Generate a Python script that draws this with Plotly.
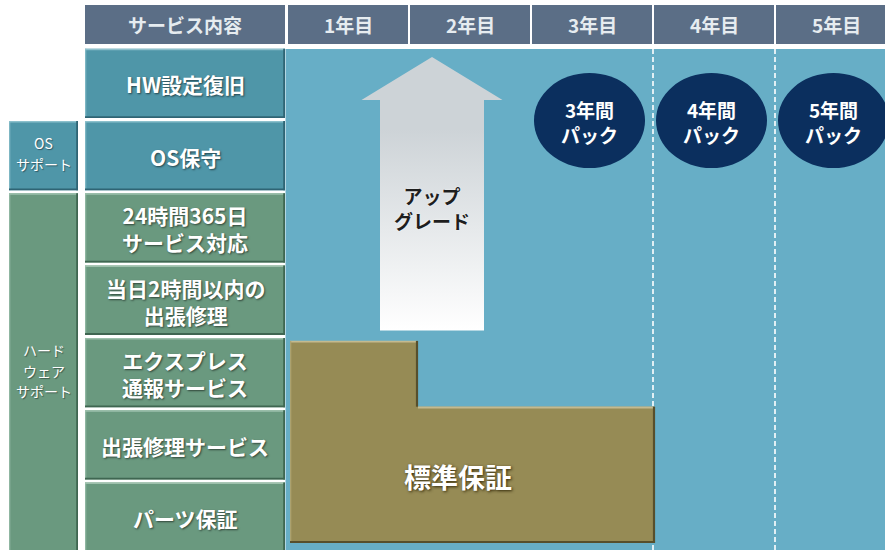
import plotly.graph_objects as go

# ---------------- data ----------------
years = ["1年目", "2年目", "3年目", "4年目", "5年目"]
header_label = "サービス内容"
services = ["HW設定復旧", "OS保守", "24時間365日<br>サービス対応", "当日2時間以内の<br>出張修理",
            "エクスプレス<br>通報サービス", "出張修理サービス", "パーツ保証"]
service_kind = ["os", "os", "hw", "hw", "hw", "hw", "hw"]
group_labels = ["OS<br>サポート", "ハード<br>ウェア<br>サポート"]
group_kind = ["os", "hw"]
group_first_row = [1, 2]
group_last_row = [1, 6]
standard_years = [0, 0, 0, 0, 1, 3, 3]
standard_label = "標準保証"
pack_years = [3, 4, 5]
pack_labels = ["3年間<br>パック", "4年間<br>パック", "5年間<br>パック"]
upgrade_label = "アップ<br>グレード"

# ---------------- style / layout ----------------
W, H = 885, 550
X0_PX, COL_PX = 287.0, 122.0       # pixel of year 0 boundary, width of one year column
Y0_PX, ROW_PX = 47.2, 72.3         # pixel of row 0 boundary, height of one row
FONT = "Noto Sans CJK JP"

C_HEADER = "#5B6E86"
C_OS = "#4F96A8"
C_HW = "#6A997F"
C_BLUE = "#67AEC6"
C_OLIVE = "#968B55"
C_NAVY = "#0B2F5E"
LIGHT = {"os": "#8CC0CC", "hw": "#9DC0AC"}
DARK = {"os": "#2F6474", "hw": "#3F6651"}
CELL = {"os": C_OS, "hw": C_HW}


def px2x(p):
    return (p - X0_PX) / COL_PX


def px2y(p):
    return (p - Y0_PX) / ROW_PX


dx = 1.0 / COL_PX   # one pixel in x units
dy = 1.0 / ROW_PX   # one pixel in y units

shapes = []
annotations = []


def rect(x0, x1, y0, y1, color):
    shapes.append(dict(type="rect", xref="x", yref="y", x0=x0, x1=x1, y0=y0, y1=y1,
                       fillcolor=color, line=dict(width=0), layer="below"))


def seg(x0, y0, x1, y1, color, width=1.5, dash=None):
    ln = dict(color=color, width=width)
    if dash:
        ln["dash"] = dash
    shapes.append(dict(type="line", xref="x", yref="y", x0=x0, x1=x1, y0=y0, y1=y1,
                       line=ln, layer="below"))


def cell(x0, x1, y0, y1, kind):
    rect(x0, x1, y0, y1, CELL[kind])
    seg(x0, y0 + 0.75 * dy, x1, y0 + 0.75 * dy, LIGHT[kind], 1.5)
    seg(x0 + 0.75 * dx, y0, x0 + 0.75 * dx, y1, LIGHT[kind], 1.0)
    seg(x1 - 0.9 * dx, y0, x1 - 0.9 * dx, y1, DARK[kind], 1.8)
    seg(x0, y1 - 0.9 * dy, x1, y1 - 0.9 * dy, DARK[kind], 1.8)


def text_lines(xc, yc, label, size, spacing_px, color="#FFFFFF", weight=700, shadow=None):
    lines = label.split("<br>")
    n = len(lines)
    for k, t in enumerate(lines):
        y = yc + (k - (n - 1) / 2) * spacing_px * dy
        f = dict(family=FONT, size=size, color=color, weight=weight)
        if shadow:
            f["shadow"] = shadow
        annotations.append(dict(x=xc, y=y, xref="x", yref="y", text=t, showarrow=False,
                                xanchor="center", yanchor="middle", font=f))


def text_block(xc, yc, label, size, color="#FFFFFF", weight=700, shadow=None):
    f = dict(family=FONT, size=size, color=color, weight=weight)
    if shadow:
        f["shadow"] = shadow
    annotations.append(dict(x=xc, y=yc, xref="x", yref="y", text=label, showarrow=False,
                            xanchor="center", yanchor="middle", align="center", font=f))


SHADOW = "1px 1px 2px rgba(0,0,0,0.55)"

n_rows = len(services)
n_years = len(years)

# columns
ITEM_X0, ITEM_X1 = px2x(85), px2x(285)
GRP_X0, GRP_X1 = px2x(9), px2x(78)
GAP = 1.5 * dy

# header
HY0, HY1 = px2y(5), px2y(44)
rect(ITEM_X0, ITEM_X1, HY0, HY1, C_HEADER)
text_block((ITEM_X0 + ITEM_X1) / 2, (HY0 + HY1) / 2, header_label, 19,
           color="#E6ECF0", weight=700)
for k, yl in enumerate(years):
    rect(k + dx, k + 1 - dx, HY0, HY1, C_HEADER)
    text_block(k + 0.5, (HY0 + HY1) / 2, yl, 19, color="#E6ECF0", weight=700)

# blue matrix background
rect(-1.5 * dx, n_years + 1, px2y(49), n_rows + 1, C_BLUE)

# dashed separators between pack columns
for p in pack_years[:-1]:
    seg(p, px2y(49), p, n_rows + 1, "#FFFFFF", 1.6, dash="5px,3px")

# service rows
for i, (lab, kind) in enumerate(zip(services, service_kind)):
    cell(ITEM_X0, ITEM_X1, i + GAP, i + 1 - GAP, kind)
    text_block((ITEM_X0 + ITEM_X1) / 2, i + 0.5 + 1 * dy, lab, 21, shadow=SHADOW)

# group column
for lab, kind, r0, r1 in zip(group_labels, group_kind, group_first_row, group_last_row):
    cell(GRP_X0, GRP_X1, r0 + GAP, r1 + 1 - GAP, kind)
    text_lines((GRP_X0 + GRP_X1) / 2, (r0 + r1 + 1) / 2 - 2 * dy, lab, 14, 20.5,
               weight=400, shadow="1px 1px 1px rgba(0,0,0,0.4)")

# standard warranty staircase
rows_std = [i for i, v in enumerate(standard_years) if v > 0]
L = 3 * dx
top = rows_std[0] + 4.5 * dy
bottom = px2y(543)
STEP_OFF = 9 * dx     # inner step sits a little right of its year boundary
EDGE_OFF = 2 * dx     # outer right edge
pts = [(L, top), (standard_years[rows_std[0]] + STEP_OFF, top)]
prev = standard_years[rows_std[0]]
prev_off = STEP_OFF
for i in rows_std[1:]:
    v = standard_years[i]
    if v != prev:
        pts.append((prev + prev_off, i - 2 * dy))
        pts.append((v + EDGE_OFF, i - 2 * dy))
        prev, prev_off = v, EDGE_OFF
pts.append((prev + prev_off, bottom))
pts.append((L, bottom))
path = "M " + " L ".join(f"{x:.5f},{y:.5f}" for x, y in pts) + " Z"
shapes.append(dict(type="path", xref="x", yref="y", path=path, fillcolor=C_OLIVE,
                   line=dict(width=0), layer="below"))
# bevel: light on horizontal tops and left, dark on verticals (right) and bottom
for a, b in zip(pts[:-2], pts[1:-1]):
    if abs(a[1] - b[1]) < 1e-9:
        seg(a[0], a[1] + 0.8 * dy, b[0] - dx, b[1] + 0.8 * dy, "#C4BA8F", 1.8)
    else:
        seg(a[0] - 1 * dx, a[1], b[0] - 1 * dx, b[1], "#574F2C", 2.2)
seg(L + 0.7 * dx, top, L + 0.7 * dx, bottom, "#AFA573", 1.2)
seg(L, bottom - 1 * dy, pts[-2][0], bottom - 1 * dy, "#574F2C", 2.2)
text_block(1.4, px2y(476), standard_label, 27, shadow="1px 1px 3px rgba(40,30,0,0.9)")

# upgrade arrow
AX = px2x(432)
tip = px2y(57)
wing_y = px2y(100)
wing_h = (px2x(502) - px2x(361)) / 2
shaft_h = (px2x(483) - px2x(379)) / 2
shaft_bot = rows_std[0] - 6 * dy
ax_pts = [(AX, tip), (AX + wing_h, wing_y), (AX + shaft_h, wing_y), (AX + shaft_h, shaft_bot),
          (AX - shaft_h, shaft_bot), (AX - shaft_h, wing_y), (AX - wing_h, wing_y), (AX, tip)]
arrow = go.Scatter(
    x=[p[0] for p in ax_pts], y=[p[1] for p in ax_pts], mode="lines", fill="toself",
    line=dict(width=0, color="rgba(0,0,0,0)"),
    fillgradient=dict(type="vertical", start=wing_y + 0.4, stop=shaft_bot,
                      colorscale=[[0, "#CDD3D7"], [1, "#FFFFFF"]]),
    hoverinfo="skip", showlegend=False)
text_block(AX, px2y(208), upgrade_label, 19, color="#1E1E1E", weight=700,
           shadow="0px 0px 2px rgba(255,255,255,0.8)")

# pack circles
RX, RY = 55.5 * dx, 47.5 * dy
CY = px2y(120.5)
for p, lab in zip(pack_years, pack_labels):
    cx = p - 0.5 - 2.5 * dx
    shapes.append(dict(type="circle", xref="x", yref="y", x0=cx - RX, x1=cx + RX,
                       y0=CY - RY, y1=CY + RY, fillcolor=C_NAVY, line=dict(width=0),
                       layer="below"))
    text_block(cx, CY + 1.5 * dy, lab, 19, weight=700)

fig = go.Figure(arrow)
fig.update_layout(
    width=W, height=H, margin=dict(l=0, r=0, t=0, b=0),
    paper_bgcolor="#FFFFFF", plot_bgcolor="#FFFFFF",
    xaxis=dict(range=[px2x(0), px2x(W)], visible=False, fixedrange=True),
    yaxis=dict(range=[px2y(H), px2y(0)], visible=False, fixedrange=True),
    shapes=shapes, annotations=annotations, showlegend=False,
)
fig.write_html("out.html", config={"displayModeBar": False},
               post_script="document.body.style.margin='0';document.body.style.overflow='hidden';")
